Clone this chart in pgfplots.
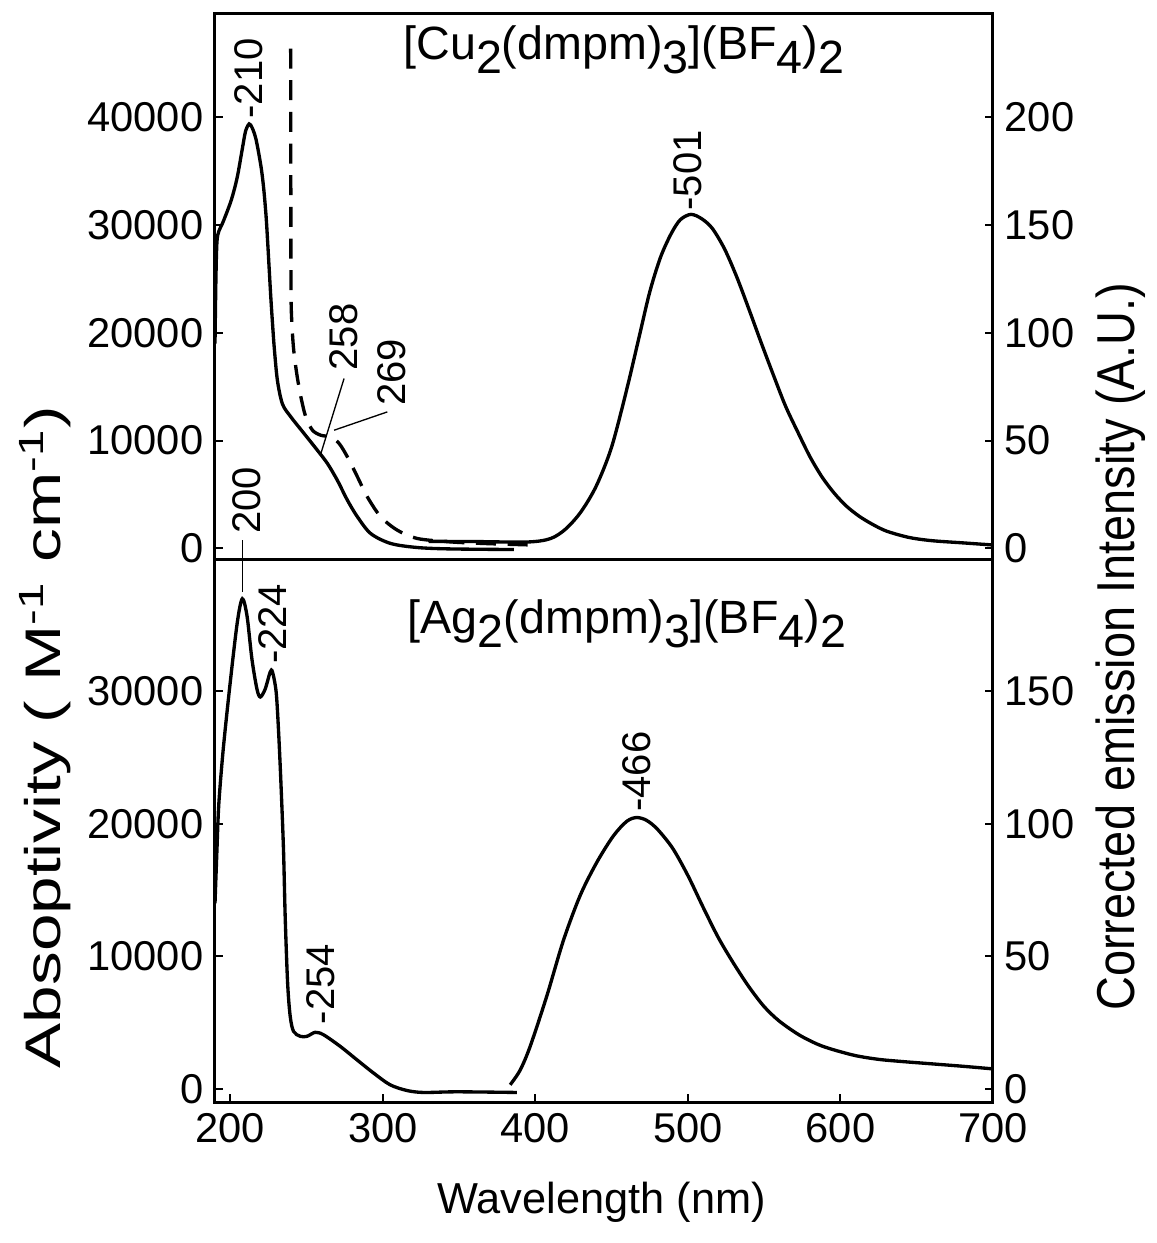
\documentclass[border=0pt]{standalone}
\usepackage{pgfplots}
\pgfplotsset{compat=1.18}
\usepackage{fontspec}
\setmainfont{Liberation Sans}
\newcommand{\sub}[1]{\raisebox{-0.3em}{#1}}
\begin{document}
\begin{tikzpicture}
\pgfplotsset{
  every axis/.append style={
    scale only axis, width=233.4pt, xmin=190, xmax=700, clip=false,
    scaled ticks=false,
    tick align=inside, major tick length=2.5pt,
    tick label style={font=\fontsize{12.5}{15}\selectfont},
    /pgf/number format/assume math mode=true,
    /pgf/number format/1000 sep={},
    axis line style={line width=0.9pt},
    every tick/.style={black, line width=0.6pt},
  },
}
\tikzset{curve/.style={black, line width=1.0pt, smooth, tension=0.5},
  ann/.style={font=\fontsize{12}{14}\selectfont, rotate=90, anchor=west, inner sep=0.5pt}}
% ---------------- bottom panel (Ag) ----------------
\begin{axis}[at={(0,0)}, anchor=south west, height=162.9pt,
  ymin=-1000, ymax=40000, xtick={200,300,400,500,600,700}, xtick pos=bottom,
  ytick={0,10000,20000,30000}, ytick pos=left]
\addplot[curve] coordinates {
(190,14000) (191.3,18100) (192.5,21500) (195.4,25640) (200,30700) (204.6,35200)
(207.9,37000) (211,35700) (214.2,32450) (217.5,30180) (219.7,29580) (222.9,30180)
(226.2,31470) (227.7,31470) (230.1,29950) (231.7,26930) (233.2,23150) (234.9,18080)
(236,13030) (237.6,8000) (239.3,5470) (241.5,4330) (245.9,3960) (250.3,3960)
(255.7,4260) (261.1,4080) (272.1,3200) (283,2190) (293.9,1190) (304.8,300)
(315.8,-130) (326.7,-280) (348.6,-230) (387.9,-280)};
\draw[line width=0.4pt] (axis cs:207.9,37500) -- (axis cs:207.9,41450);
\node[ann] at (axis cs:211,41750) {200};
\node[ann] at (axis cs:228,31900) {-224};
\node[ann] at (axis cs:259.6,4700) {-254};
\node[ann] at (axis cs:466.5,20750) {-466};
\node[font=\fontsize{14}{16}\selectfont] at (axis cs:460,35100)
  {[Ag\sub{2}(dmpm)\sub{3}](BF\sub{4})\sub{2}};
\end{axis}
\begin{axis}[at={(0,0)}, anchor=south west, height=162.9pt,
  ymin=-5, ymax=200, axis x line=none, axis y line*=right,
  ytick={0,50,100,150}]
\addplot[curve] coordinates {
(383.5,1.5) (390,7) (396.6,16) (407.5,35) (418.4,56) (429.4,73) (440.3,85.5)
(451.2,95.5) (460,101) (466.5,102.4) (473,101.3) (480,98) (490,90.8) (500,80.5)
(510,68.5) (520,57) (530,47.3) (540,38.5) (550,31) (560,25.5) (573,20.3)
(585,16.8) (595,14.8) (610,12.5) (625,11.1) (640,10.3) (660,9.4) (680,8.5) (700,7.5)};
\end{axis}
% ---------------- top panel (Cu) ----------------
\begin{axis}[at={(0,162.9pt)}, anchor=south west, height=163.8pt,
  ymin=-1000, ymax=49700, xtick=\empty,
  ytick={0,10000,20000,30000,40000}, ytick pos=left]
\addplot[curve] coordinates {
(190,19000) (190.6,25000) (191.3,28500) (192.7,29500) (195.3,30300) (200.6,32300)
(204.5,34400) (207.8,37000) (210,38700) (212.4,39400) (214.5,39000) (217,37900)
(220.2,35400) (222,33300) (223.5,30800) (224.5,28500) (225.5,26000) (226.5,23500)
(227.5,21300) (228.8,18700) (230.9,15600) (234.2,13400) (239.7,12200) (248.4,10650)
(257.1,9100) (263.7,7870) (270.2,6310) (276.8,4460) (283.4,2910) (292.1,1360)
(305.2,440) (322.7,65) (344.6,-65) (386,-120)};
\addplot[curve, dash pattern=on 6pt off 3.5pt] coordinates {
(239.6,46400) (239.7,35000) (239.8,24900) (240.1,21800) (241.4,18700) (243.6,16200)
(246.3,14050) (249.5,12200) (253.9,10960) (259.4,10490) (265.9,10330) (271.4,9720)
(276.8,8480) (283.4,6620) (289.9,4760) (298.7,2910) (309.6,1670) (322.7,900)
(344.6,585) (366.4,440) (388.2,340) (398,300)};
\node[ann] at (axis cs:212.4,39700) {-210};
\draw[line width=0.4pt] (axis cs:274.6,15760) -- (axis cs:259.4,8790);
\node[ann] at (axis cs:274.6,16300) {258};
\draw[line width=0.4pt] (axis cs:303,12660) -- (axis cs:268.1,10960);
\node[ann] at (axis cs:306,13000) {269};
\node[ann] at (axis cs:500,31150) {-501};
\node[font=\fontsize{14}{16}\selectfont] at (axis cs:458,46300)
  {[Cu\sub{2}(dmpm)\sub{3}](BF\sub{4})\sub{2}};
\end{axis}
\begin{axis}[at={(0,162.9pt)}, anchor=south west, height=163.8pt,
  ymin=-5, ymax=248.5, axis x line=none, axis y line*=right,
  ytick={0,50,100,150,200}]
\addplot[curve] coordinates {
(330,3.2) (360,3.1) (395,2.9) (410,4.5) (420,9) (430,17) (440,29) (450,47)
(460,74) (468,98) (475,119) (482,135) (489,146) (495,152.5) (502,155) (509,153)
(516,148.5) (524,139) (532,126) (540,111) (548,95.5) (556,80.5) (564,66)
(572,54) (580,42.5) (588,33) (596,25.5) (604,19.5) (612,15) (620,11.5) (630,8)
(645,5) (660,3.5) (680,2.5) (700,1.5)};
\end{axis}
% ---------------- axis titles ----------------
\node[rotate=90, font=\fontsize{15}{17}\selectfont] at (-51pt,109.5pt)
  {\scalebox{1.35}[1]{Absoptivity ( M\textsuperscript{-1} cm\textsuperscript{-1})}};
\node[rotate=90, font=\fontsize{16}{18}\selectfont] at (271.8pt,136.5pt)
  {\scalebox{0.88}[1]{Corrected emission Intensity (A.U.)}};
\node[font=\fontsize{13}{16}\selectfont] at (116pt,-30pt) {Wavelength (nm)};
\pgfresetboundingbox
\path[use as bounding box] (-64.5pt,-42.3pt) rectangle (282.6pt,330.6pt);
\end{tikzpicture}
\end{document}
